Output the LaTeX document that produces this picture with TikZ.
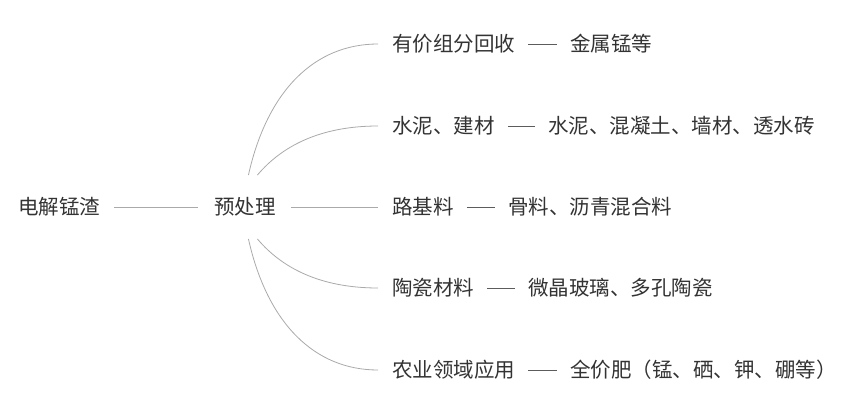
\documentclass[tikz,border=0pt]{standalone}
\usepackage{fontspec}
\newfontfamily\cjk{Noto Sans CJK SC}
\definecolor{txt}{HTML}{333333}
\definecolor{ln}{HTML}{AAAAAA}
\begin{document}
\begin{tikzpicture}[x=1pt,y=1pt,
  lbl/.style={anchor=west,inner sep=0pt,font=\cjk\fontsize{20.5}{24}\selectfont,text=txt},
  conn/.style={draw=ln,line width=0.8pt},
  dashln/.style={draw=txt!80,line width=0.8pt,shorten <=13pt,shorten >=13pt}]
\useasboundingbox[fill=white] (0,0) rectangle (864,405);
\node[lbl] (slag) at (18,198) {电解锰渣};
\node[lbl] (pre) at (214,198) {预处理};
\node[lbl] (a1) at (392,361) {有价组分回收};
\node[lbl] (a2) at (392,279) {水泥、建材};
\node[lbl] (a3) at (392,198) {路基料};
\node[lbl] (a4) at (392,117) {陶瓷材料};
\node[lbl] (a5) at (392,35) {农业领域应用};
\node[lbl] (b1) at (570,361) {金属锰等};
\node[lbl] (b2) at (548,279) {水泥、混凝土、墙材、透水砖};
\node[lbl] (b3) at (508,198) {骨料、沥青混合料};
\node[lbl] (b4) at (528,117) {微晶玻璃、多孔陶瓷};
\node[lbl] (b5) at (570,35) {全价肥（锰、硒、钾、硼等）};
\draw[conn,shorten <=14pt,shorten >=16pt] (slag.east) -- (pre.west);
\draw[conn,shorten <=15pt,shorten >=14pt] (pre.east) -- (a3.west);
\foreach \i in {1,...,5}{\draw[dashln] (a\i.east) -- (b\i.west);}
\coordinate (u1) at ([shift={(3.5,32)}]pre.center);
\coordinate (u2) at ([shift={(12.5,32)}]pre.center);
\coordinate (d1) at ([shift={(3.5,-32)}]pre.center);
\coordinate (d2) at ([shift={(12.5,-32)}]pre.center);
\coordinate (e1) at ([xshift=-14pt]a1.west);
\coordinate (e2) at ([xshift=-14pt]a2.west);
\coordinate (e4) at ([xshift=-14pt]a4.west);
\coordinate (e5) at ([xshift=-14pt]a5.west);
\draw[conn] (u1) .. controls ++(19,85) and ++(-63,0) .. (e1);
\draw[conn] (u2) .. controls ++(27,32) and ++(-53,0) .. (e2);
\draw[conn] (d1) .. controls ++(19,-85) and ++(-63,0) .. (e5);
\draw[conn] (d2) .. controls ++(27,-32) and ++(-53,0) .. (e4);
\end{tikzpicture}
\end{document}
